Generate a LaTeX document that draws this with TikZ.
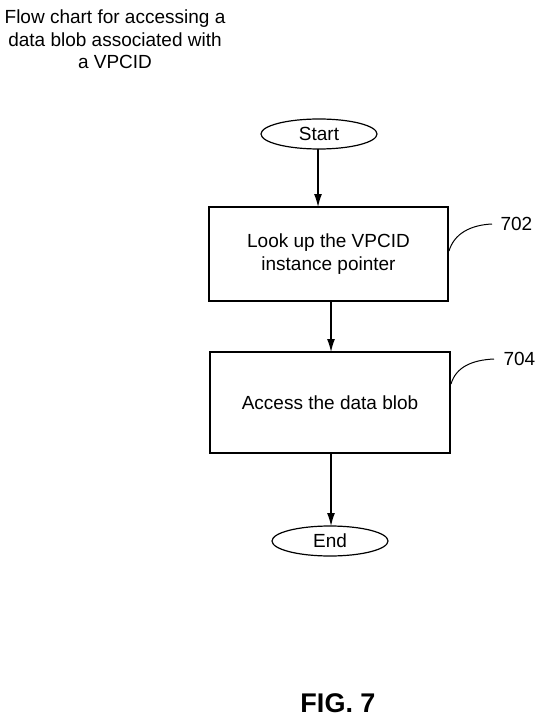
\documentclass[tikz,border=0pt]{standalone}
\usepackage{fontspec}
\setmainfont{Liberation Sans}
\usetikzlibrary{shapes.geometric,arrows.meta}
\begin{document}
\begin{tikzpicture}[x=1pt,y=-1pt,
  line width=1.2pt,
  term/.style={draw,ellipse,minimum width=116pt,minimum height=30pt,inner sep=0pt,font=\fontsize{19}{23}\selectfont},
  procbox/.style={draw,rectangle,inner sep=0pt,align=center,font=\fontsize{19}{23}\selectfont},
  arr/.style={-{Latex[length=13pt,width=8pt]}},
  reflabel/.style={font=\fontsize{19}{23}\selectfont,inner sep=0pt},
  lead/.style={line width=1pt}]
\useasboundingbox (0,0) rectangle (542,722);
\node[font=\fontsize{19}{22.5}\selectfont,align=center,inner sep=0pt] (title) at (115,39.5)
  {Flow chart for accessing a\\data blob associated with\\a VPCID};
\node[term] (start) at (319,134) {Start};
\node[procbox,minimum width=239pt,minimum height=94pt] (b702) at (328.5,254) {Look up the VPCID\\instance pointer};
\node[procbox,minimum width=240pt,minimum height=101pt] (b704) at (330,402.5) {Access the data blob};
\node[term] (end) at (330,541) {End};
\coordinate (s1) at (318,149);
\coordinate (t1) at (318,207);
\coordinate (s2) at (331,301);
\coordinate (t2) at (331,352);
\coordinate (s3) at (331,453);
\coordinate (t3) at (331,526);
\draw[arr] (s1) -- (t1);
\draw[arr] (s2) -- (t2);
\draw[arr] (s3) -- (t3);
\node[reflabel,anchor=west] (l702) at (500,224) {702};
\node[reflabel,anchor=west] (l704) at (503,359) {704};
\coordinate (a702) at (449,251);
\coordinate (a704) at (451,384);
\draw[lead] (a702) .. controls (454,234) and (470,225) .. ([xshift=-8pt]l702.west);
\draw[lead] (a704) .. controls (456,367) and (472,360) .. ([xshift=-9pt]l704.west);
\node[font=\bfseries\fontsize{27}{30}\selectfont,inner sep=0pt] (fig) at (338,703) {FIG. 7};
\end{tikzpicture}
\end{document}
